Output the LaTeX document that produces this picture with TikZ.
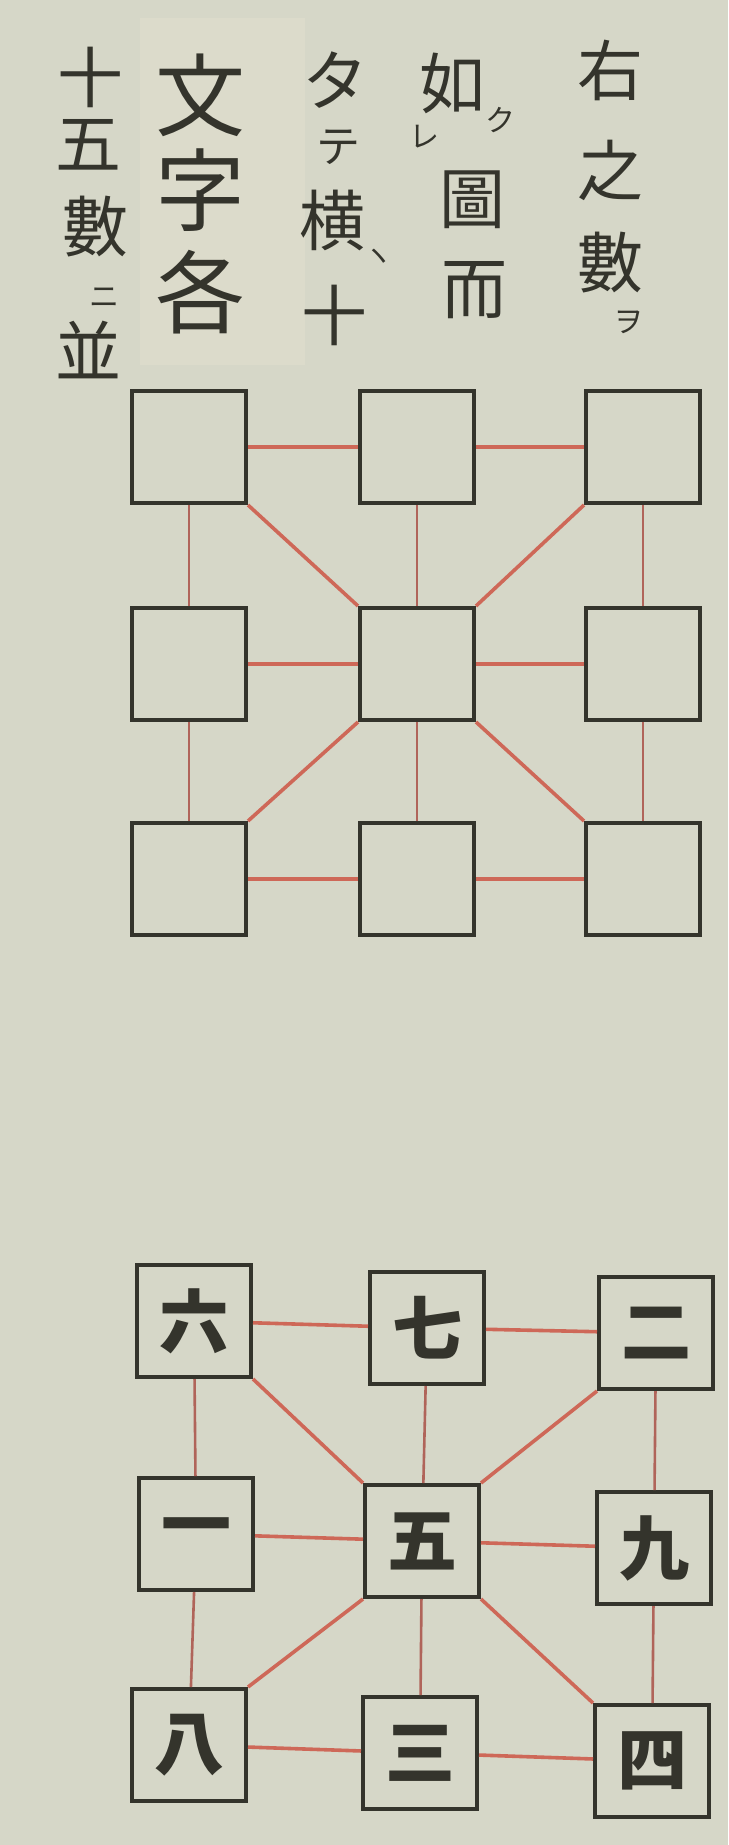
\documentclass[tikz,border=0pt]{standalone}
\usepackage{fontspec}
\newfontfamily\jpfont{Noto Sans CJK JP}

\definecolor{paper}{RGB}{214,215,200}
\definecolor{patch}{RGB}{220,219,203}
\definecolor{ink}{RGB}{52,52,44}
\definecolor{shu}{RGB}{206,104,88}
\definecolor{shudark}{RGB}{176,100,90}

\tikzset{
  cell/.style={draw=ink, line width=2pt, minimum width=57pt, minimum height=56pt,
    inner sep=0pt, text=ink, font=\jpfont\bfseries\fontsize{35}{35}\selectfont},
  kanji/.style={inner sep=0pt, text=ink, font=\jpfont\fontsize{33}{33}\selectfont},
  bigkanji/.style={kanji, font=\jpfont\fontsize{45}{45}\selectfont},
  midkana/.style={kanji, font=\jpfont\fontsize{22}{22}\selectfont},
  kana/.style={kanji, font=\jpfont\fontsize{15}{15}\selectfont},
  hlink/.style={shu, line width=1.8pt},
  vlink/.style={shudark, line width=1.3pt},
  dlink/.style={shu, line width=1.8pt}
}

\begin{document}
\begin{tikzpicture}[x=0.5pt, y=-0.5pt]
    % paper and pasted strip
    \fill[paper] (0,0) rectangle (728,1845);
    \fill[patch] (140,18) rectangle (305,365);

    % text, columns from right to left
    \foreach \ch/\y [count=\i] in {右/70, 之/170, 數/263}
        \node[kanji] (ca\i) at (610,\y) {\ch};
    \node[kana] (ca4) at (628,322) {ヲ};

    \node[kanji] (cb1) at (452,83) {如};
    \node[kana] (cb2) at (500,120) {ク};
    \node[kana] (cb3) at (424,137) {レ};
    \node[kanji] (cb4) at (472,200) {圖};
    \node[kanji] (cb5) at (474,290) {而};

    \node[kanji] (cc1) at (335,80) {タ};
    \node[midkana] (cc2) at (338,147) {テ};
    \node[kanji] (cc3) at (332,220) {横};
    \node[kana] (cc4) at (378,258) {ヽ};
    \node[kanji] (cc5) at (334,315) {十};

    \foreach \ch/\y [count=\i] in {文/95, 字/190, 各/292}
        \node[bigkanji] (cd\i) at (200,\y) {\ch};

    \node[kanji] (ce1) at (90,77) {十};
    \node[kanji] (ce2) at (88,145) {五};
    \node[kanji] (ce3) at (95,227) {數};
    \node[kana] (ce4) at (104,298) {ニ};
    \node[kanji] (ce5) at (88,350) {並};

    % empty square
    \foreach \y [count=\r] in {447,664,879}
        \foreach \x [count=\c] in {189,417,643}
            \node[cell] (t\r\c) at (\x,\y) {};

    % filled square
    \node[cell] (b11) at (194,1321) {六};
    \node[cell] (b12) at (427,1328) {七};
    \node[cell] (b13) at (656,1333) {二};
    \node[cell] (b21) at (196,1534) {一};
    \node[cell] (b22) at (422,1541) {五};
    \node[cell] (b23) at (654,1548) {九};
    \node[cell] (b31) at (189,1745) {八};
    \node[cell] (b32) at (420,1753) {三};
    \node[cell] (b33) at (652,1761) {四};

    % red links in both squares
    \foreach \g in {t,b} {
        \foreach \k in {1,2,3} {
            \draw[hlink] (\g\k1) -- (\g\k2);
            \draw[hlink] (\g\k2) -- (\g\k3);
            \draw[vlink] (\g1\k) -- (\g2\k);
            \draw[vlink] (\g2\k) -- (\g3\k);
        }
        \draw[dlink] (\g11.south east) -- (\g22.north west);
        \draw[dlink] (\g13.south west) -- (\g22.north east);
        \draw[dlink] (\g31.north east) -- (\g22.south west);
        \draw[dlink] (\g33.north west) -- (\g22.south east);
    }
\end{tikzpicture}
\end{document}
